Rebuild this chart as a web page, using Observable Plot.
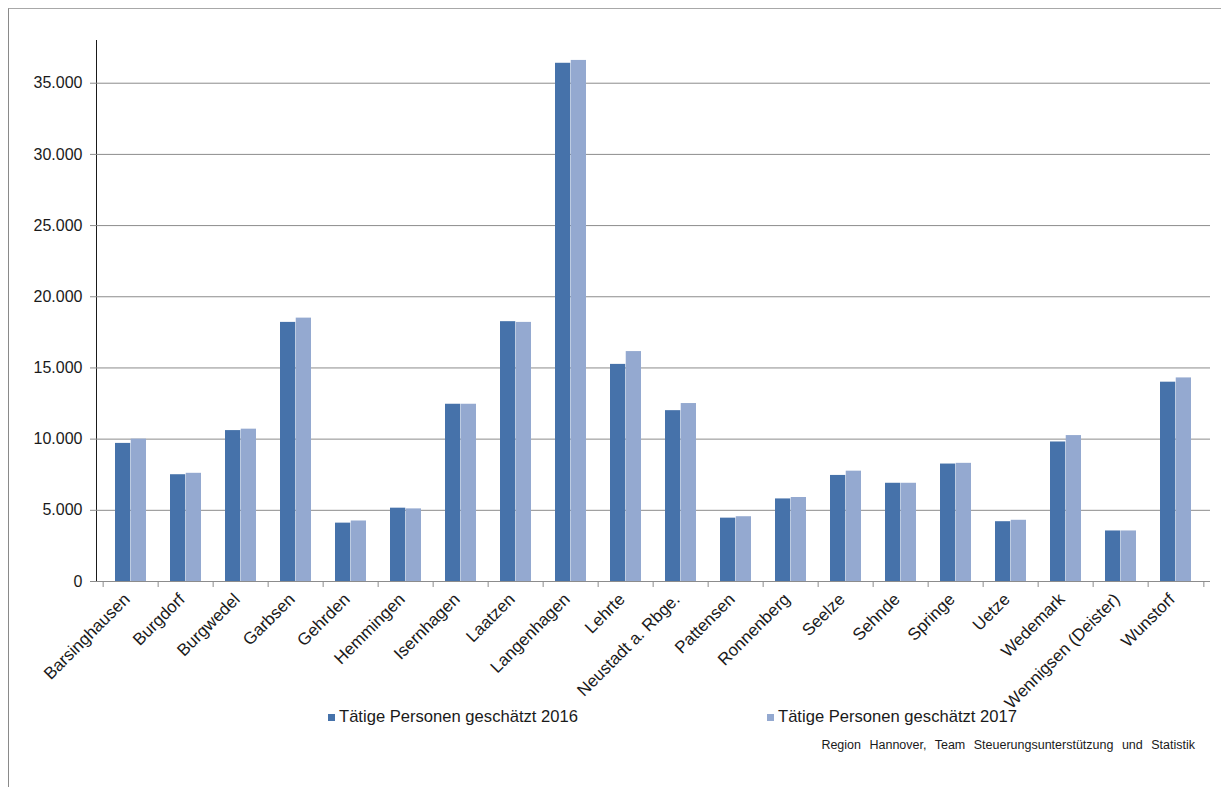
<!DOCTYPE html>
<html>
<head>
<meta charset="utf-8">
<script src="https://cdn.jsdelivr.net/npm/d3@7"></script>
<script src="https://cdn.jsdelivr.net/npm/@observablehq/plot@0.6"></script>
<style>
  body { margin: 0; background: #fff; font-family: "Liberation Sans", Arial, sans-serif; }
  #chart { position: relative; width: 1221px; height: 787px; overflow: hidden; background: #fff; }
  #frame { position: absolute; left: 8px; top: 8px; right: -4px; bottom: -4px;
           border-top: 1px solid #a8a8a8; border-left: 1px solid #8a8a8a; pointer-events: none; }
  .legend { position: absolute; top: 707px; font-size: 16.6px; color: #1a1a1a;
            display: flex; align-items: center; white-space: nowrap; }
  .legend .sw { width: 7px; height: 7px; margin-right: 4px; }
  #caption { position: absolute; top: 738px; right: 26px; font-size: 12.5px; color: #1a1a1a;
             white-space: nowrap; word-spacing: 5px; }
</style>
</head>
<body>
<div id="chart">
  <div id="frame"></div>
</div>
<script>
// Tätige Personen (geschätzt) je Kommune der Region Hannover, 2016 und 2017
const gemeinden = [
  "Barsinghausen", "Burgdorf", "Burgwedel", "Garbsen", "Gehrden", "Hemmingen",
  "Isernhagen", "Laatzen", "Langenhagen", "Lehrte", "Neustadt a. Rbge.", "Pattensen",
  "Ronnenberg", "Seelze", "Sehnde", "Springe", "Uetze", "Wedemark",
  "Wennigsen (Deister)", "Wunstorf"
];
const personen2016 = [9700, 7500, 10600, 18200, 4100, 5150, 12450, 18250, 36400, 15250,
                      12000, 4450, 5800, 7450, 6900, 8250, 4200, 9800, 3550, 14000];
const personen2017 = [10000, 7600, 10700, 18500, 4250, 5100, 12450, 18200, 36600, 16150,
                      12500, 4550, 5900, 7750, 6900, 8300, 4300, 10250, 3550, 14300];
const serien = ["Tätige Personen geschätzt 2016", "Tätige Personen geschätzt 2017"];
const farben = ["#4672aa", "#94a9d0"];
const yTicks = [0, 5000, 10000, 15000, 20000, 25000, 30000, 35000];
const quelle = "Region Hannover, Team Steuerungsunterstützung und Statistik";

const rows = gemeinden.map((g, i) => ({gemeinde: g, v2016: personen2016[i], v2017: personen2017[i]}));

// layout
const W = 1221, H = 787, mL = 96, mR = 11, mT = 40, mB = 206;
const padInner = 0.435, padOuter = padInner / 2;
const step = (W - mL - mR) / gemeinden.length;
const band = step * (1 - padInner);

const fmt = d3.formatLocale({decimal: ",", thousands: ".", grouping: [3], currency: ["", " €"]}).format(",");
const axisGrey = "#8c8c8c";

const chart = Plot.plot({
  width: W,
  height: H,
  marginLeft: mL,
  marginRight: mR,
  marginTop: mT,
  marginBottom: mB,
  style: {background: "transparent", fontFamily: "'Liberation Sans', Arial, sans-serif", fontSize: "16px", color: "#1a1a1a"},
  x: {
    domain: gemeinden,
    paddingInner: padInner,
    paddingOuter: padOuter,
    label: null,
    tickSize: 0,
    tickPadding: 8,
    tickRotate: -45
  },
  y: {
    domain: [0, 38000],
    ticks: yTicks,
    tickFormat: fmt,
    tickSize: 6,
    tickPadding: 8,
    label: null,
    line: true
  },
  marks: [
    Plot.ruleY(yTicks, {stroke: axisGrey, strokeWidth: 1}),
    Plot.barY(rows, {x: "gemeinde", y: "v2016", fill: farben[0], insetRight: band / 2}),
    Plot.barY(rows, {x: "gemeinde", y: "v2017", fill: farben[1], insetLeft: band / 2}),
    // category boundary ticks below the baseline
    Plot.ruleX(gemeinden, {x: d => d, y1: 0, y2: 0, insetBottom: -6, dx: -step / 2, stroke: axisGrey}),
    Plot.ruleX(gemeinden.slice(-1), {x: d => d, y1: 0, y2: 0, insetBottom: -6, dx: step / 2, stroke: axisGrey})
  ]
});
chart.style.position = "absolute";
chart.style.left = "0px";
chart.style.top = "0px";
chart.querySelectorAll("[aria-label='y-axis'] path, [aria-label='y-axis tick'] path").forEach(p => p.setAttribute("stroke", axisGrey));

// rotated municipality names: slightly larger and nudged down-left
const xLabels = chart.querySelector("g[aria-label='x-axis tick label']");
if (xLabels) {
  const t = xLabels.getAttribute("transform") || "";
  xLabels.setAttribute("transform", `translate(-4,7) ${t}`);
  xLabels.setAttribute("font-size", "17");
  xLabels.style.fontSize = "17px";
}

const root = document.getElementById("chart");
root.insertBefore(chart, root.firstChild);

// legend
const legendX = [328, 767];
serien.forEach((s, i) => {
  const el = document.createElement("div");
  el.className = "legend";
  el.style.left = legendX[i] + "px";
  const sw = document.createElement("span");
  sw.className = "sw";
  sw.style.background = farben[i];
  const tx = document.createElement("span");
  tx.textContent = s;
  el.appendChild(sw);
  el.appendChild(tx);
  root.appendChild(el);
});

const cap = document.createElement("div");
cap.id = "caption";
cap.textContent = quelle;
root.appendChild(cap);
</script>
</body>
</html>
